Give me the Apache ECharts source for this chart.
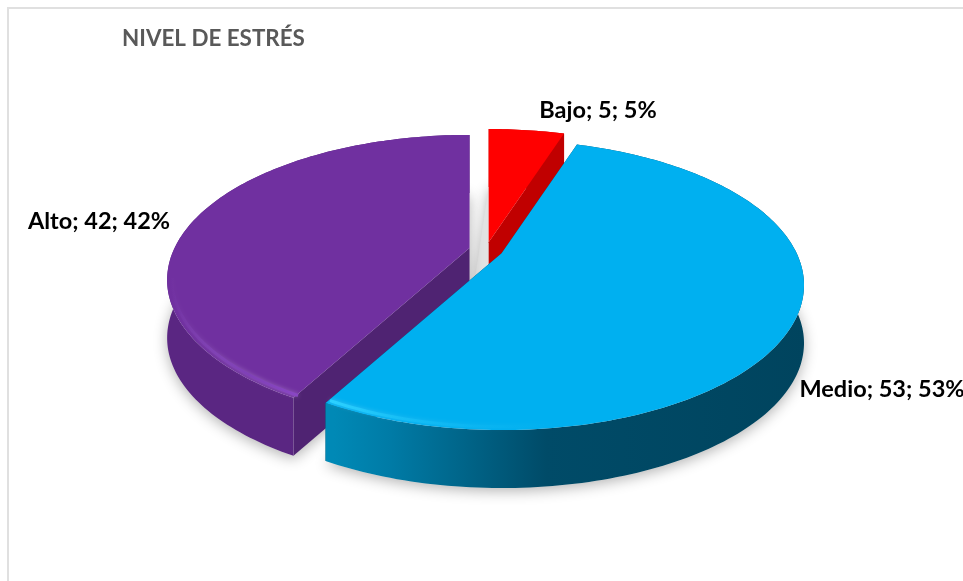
<!DOCTYPE html>
<html>
<head>
<meta charset="utf-8">
<style>
html, body { margin: 0; padding: 0; background: #fff; }
#draw { width: 963px; height: 581px; }
</style>
<script src="https://cdn.jsdelivr.net/npm/echarts@6/dist/echarts.min.js"></script>
</head>
<body>
<div id="draw"></div>
<script>
var chartTitle = 'NIVEL DE ESTRÉS';
var categories = ['Bajo', 'Medio', 'Alto'];
var values = [5, 53, 42];

var topColors = ['#ff0000', '#00b0f0', '#7030a0'];
var wallColors = ['#c00000', '#00465f', '#4f2372'];
var drawOrder = [20, 30, 10];

// pie geometry: flat disc seen in perspective
var cx = 486, cy = 250, rx = 295, ry = 138, persp = 0.22, depth = 58, explode = 17;
var labelAnchors = [
	{ x: 598, y: 110 },
	{ x: 882, y: 389 },
	{ x: 99, y: 221 }
];
// floor shadow of the small slice also fills the gap on its left
var shadowSpread = [17, 0, 0];

var total = values.reduce(function(a, b) { return a + b; }, 0);

function project(ox, oy, X, Y) {
	var p = 1 / (1 - persp * Y);
	return { x: ox + rx * X * p, y: oy + ry * Y * p };
}

// clock angle in radians, 0 at twelve
function pointAt(ox, oy, a, k) {
	return project(ox, oy, Math.sin(a) * k, -Math.cos(a) * k);
}

function arc(ox, oy, a0, a1, k) {
	var pts = [], n = Math.ceil(Math.abs(a1 - a0) / 0.02);
	for (var i = 0; i <= n; i++) {
		pts.push(pointAt(ox, oy, a0 + (a1 - a0) * i / n, k));
	}
	return pts;
}

function xy(p) { return [p.x, p.y]; }
function down(p) { return [p.x, p.y + depth]; }

function gradX(x0, x1, stops) {
	return new echarts.graphic.LinearGradient(x0, 0, x1, 0, stops.map(function(s) {
		return { offset: s[0], color: s[1] };
	}), true);
}

var sideFill = [
	'#c00000',
	gradX(334, 806, [[0, '#0089b6'], [0.12, '#007ba6'], [0.28, '#006488'], [0.45, '#004b68'], [1, '#00445e']]),
	gradX(164, 320, [[0, '#5a2682'], [0.8, '#5a2682'], [1, '#552479']])
];
var rimStroke = [
	null,
	gradX(334, 560, [[0, '#2bd0ff'], [0.3, 'rgba(30,200,250,0.5)'], [1, 'rgba(0,176,240,0)']]),
	gradX(170, 300, [[0, 'rgba(140,75,200,0)'], [0.6, '#7f40b6'], [1, '#8a47c4']])
];
// only the part of the edge nearest the viewer catches the light
var rimAngles = [null, [2.4, 3.64], [3.64, 4.5]];

function renderSlice(params, api) {
	var i = params.dataIndex, start = 0;
	for (var j = 0; j < i; j++) { start += values[j]; }
	var a0 = start / total * Math.PI * 2;
	var a1 = (start + api.value(0)) / total * Math.PI * 2;
	var mid = (a0 + a1) / 2;

	// each slice is pushed out along its middle angle
	var c = project(cx, cy, 0, 0);
	var ox = c.x + Math.sin(mid) * explode;
	var oy = c.y - Math.cos(mid) * explode * ry / rx;

	var rim = arc(ox, oy, a0, a1, 1);
	var apex = project(ox, oy, 0, 0);
	var z = drawOrder[i];

	var spread = shadowSpread[i];
	var shadowPts = [down({ x: apex.x - spread, y: apex.y })]
		.concat(arc(ox - spread, oy, a0, a0, 1).map(down))
		.concat(rim.map(down));
	var topPts = [xy(apex)].concat(rim.map(xy));
	var sidePts = rim.map(xy).concat(rim.slice().reverse().map(down));
	var first = rim[0], last = rim[rim.length - 1];

	var children = [
		{
			type: 'polygon', z2: 1, shape: { points: shadowPts },
			style: { fill: '#e2e2e2', shadowColor: 'rgba(0,0,0,0.3)', shadowBlur: 14, shadowOffsetY: 3 }
		},
		{
			type: 'polygon', z2: z, shape: { points: [xy(apex), xy(first), down(first), down(apex)] },
			style: { fill: wallColors[i] }
		},
		{
			type: 'polygon', z2: z, shape: { points: [xy(apex), xy(last), down(last), down(apex)] },
			style: { fill: wallColors[i] }
		},
		{
			type: 'polygon', z2: z + 1, shape: { points: sidePts },
			style: { fill: sideFill[i] }
		},
		{
			type: 'polygon', z2: z + 2, shape: { points: topPts },
			style: { fill: topColors[i] }
		},
		{
			type: 'text', z2: 50,
			style: {
				text: categories[i] + '; ' + api.value(0) + '; ' + Math.round(api.value(0) / total * 100) + '%',
				x: labelAnchors[i].x, y: labelAnchors[i].y,
				align: 'center', verticalAlign: 'middle',
				fill: '#000', font: 'bold 23.5px Lato'
			}
		}
	];
	if (rimStroke[i]) {
		children.push({
			type: 'polyline', z2: z + 3,
			shape: { points: arc(ox, oy, rimAngles[i][0], rimAngles[i][1], 0.985).map(xy) },
			style: { fill: null, stroke: rimStroke[i], lineWidth: 3, shadowBlur: 4, shadowColor: 'rgba(255,255,255,0.25)' }
		});
	}
	return { type: 'group', children: children };
}

var myChart = echarts.init(document.getElementById('draw'));
var option = {
	animation: false,
	backgroundColor: '#fff',
	title: {
		text: chartTitle,
		left: 117,
		top: 23,
		textStyle: { fontFamily: 'Lato', fontSize: 22.4, fontWeight: 'bold', color: '#595959' }
	},
	graphic: [
		{ type: 'rect', shape: { x: 7, y: 7, width: 956, height: 2 }, style: { fill: '#e0e0e0' } },
		{ type: 'rect', shape: { x: 7, y: 7, width: 2, height: 574 }, style: { fill: '#e0e0e0' } }
	],
	series: [{
		type: 'custom',
		coordinateSystem: 'none',
		silent: true,
		data: values.map(function(v) { return [v]; }),
		renderItem: renderSlice
	}]
};
myChart.setOption(option);
</script>
</body>
</html>
